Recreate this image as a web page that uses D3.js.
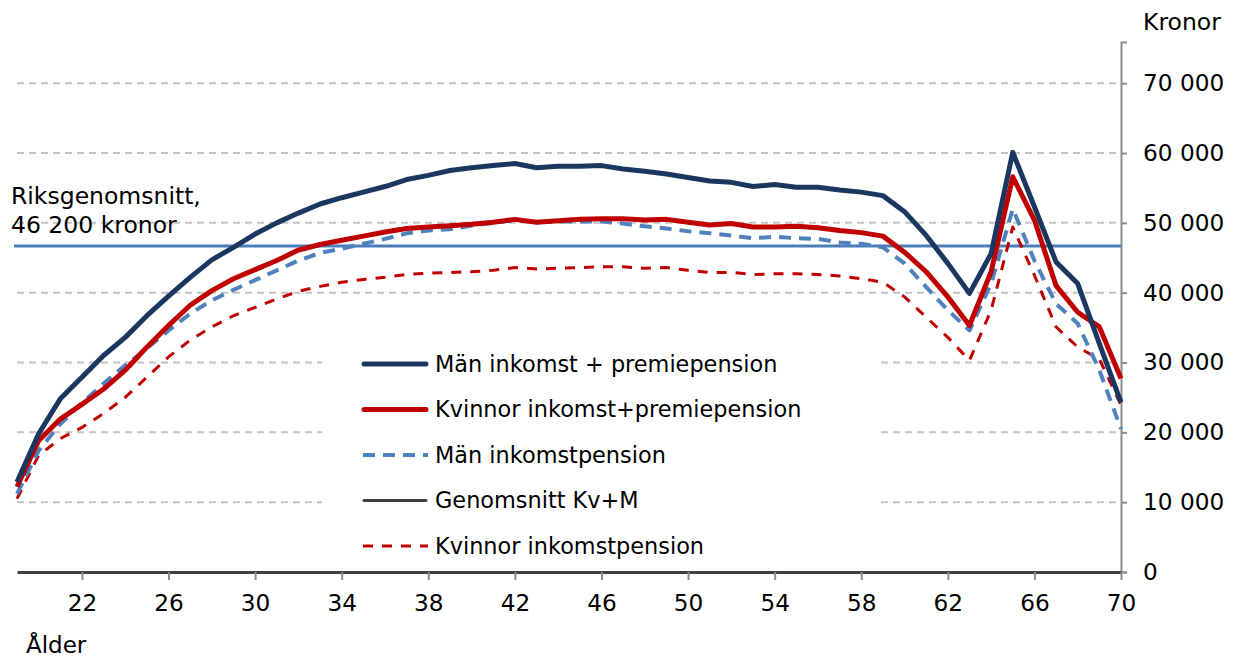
<!DOCTYPE html>
<html>
<head>
<meta charset="utf-8">
<script src="https://cdn.jsdelivr.net/npm/d3@7"></script>
<style>
  body { margin: 0; background: #fff; }
  svg { font-family: "DejaVu Sans", Verdana, sans-serif; }
</style>
</head>
<body>
<svg id="chart" width="1236" height="660"></svg>
<script>
const ages = d3.range(19, 71);

const manTotal = [12.9, 19.8, 24.8, 27.9, 31.0, 33.6, 36.7, 39.5, 42.2, 44.7, 46.5, 48.4, 50.0, 51.4, 52.7, 53.6, 54.4, 55.2, 56.2, 56.8,
  57.5, 57.9, 58.2, 58.5, 57.9, 58.1, 58.1, 58.2, 57.7, 57.4, 57.0, 56.5, 56.0, 55.8, 55.2, 55.5, 55.1, 55.1, 54.7, 54.4,
  53.9, 51.6, 48.2, 44.2, 39.9, 45.6, 60.1, 52.3, 44.4, 41.3, 32.7, 24.3];
const womanTotal = [12.2, 18.8, 21.9, 24.0, 26.2, 28.9, 32.2, 35.3, 38.2, 40.3, 42.0, 43.3, 44.6, 46.1, 46.9, 47.5, 48.1, 48.7, 49.2, 49.4,
  49.6, 49.8, 50.1, 50.5, 50.1, 50.3, 50.5, 50.6, 50.6, 50.4, 50.5, 50.1, 49.7, 49.9, 49.4, 49.4, 49.5, 49.3, 48.9, 48.6,
  48.1, 45.8, 43.0, 39.4, 35.3, 43.0, 56.6, 50.4, 41.0, 37.2, 35.1, 27.7];
const manInkomst = [11.2, 17.4, 21.2, 24.2, 27.0, 29.6, 32.0, 34.6, 37.0, 38.9, 40.4, 41.8, 43.2, 44.6, 45.7, 46.3, 47.0, 47.7, 48.5, 48.9,
  49.1, 49.6, 50.0, 50.4, 50.1, 50.2, 50.2, 50.2, 49.9, 49.5, 49.2, 48.8, 48.5, 48.2, 47.8, 48.0, 47.8, 47.7, 47.2, 47.0,
  46.5, 44.2, 40.8, 37.5, 34.6, 41.3, 52.0, 44.6, 38.4, 35.6, 28.9, 20.5];
const womanInkomst = [10.5, 16.7, 19.1, 20.7, 22.7, 25.0, 27.9, 30.8, 33.2, 35.1, 36.7, 37.9, 39.1, 40.2, 40.9, 41.5, 41.9, 42.2, 42.6, 42.8,
  42.9, 43.0, 43.2, 43.6, 43.4, 43.5, 43.6, 43.7, 43.7, 43.5, 43.6, 43.2, 42.9, 42.9, 42.6, 42.7, 42.7, 42.6, 42.4, 42.0,
  41.5, 39.4, 36.5, 33.6, 30.3, 37.5, 49.4, 42.5, 35.1, 32.2, 30.5, 23.9];
const riksAvg = 46.7;
const xTicks = [22, 26, 30, 34, 38, 42, 46, 50, 54, 58, 62, 66, 70];
const yTicks = [0, 10, 20, 30, 40, 50, 60, 70];

const series = [
  { name: "Män inkomst + premiepension", values: manTotal, color: "#1b365f", width: 5, dash: null },
  { name: "Kvinnor inkomst+premiepension", values: womanTotal, color: "#c00000", width: 5, dash: null },
  { name: "Män inkomstpension", values: manInkomst, color: "#4f81bd", width: 4, dash: "12,8" },
  { name: "Genomsnitt Kv+M", values: null, color: "#404040", width: 3, dash: null },
  { name: "Kvinnor inkomstpension", values: womanInkomst, color: "#c00000", width: 3, dash: "10,9" }
];

const svg = d3.select("#chart");
const plotLeft = 17, plotRight = 1121, plotTop = 42, plotBottom = 572;

const x = d3.scaleLinear().domain([19, 70]).range([plotLeft, plotRight]);
const y = d3.scaleLinear().domain([0, 75.9]).range([plotBottom, plotTop]);
const fmt = d => d === 0 ? "0" : d + " 000";

// gridlines
svg.append("g")
  .selectAll("line")
  .data(yTicks.filter(d => d > 0))
  .join("line")
  .attr("x1", plotLeft).attr("x2", plotRight)
  .attr("y1", d => y(d)).attr("y2", d => y(d))
  .attr("stroke", "#c3c3c3")
  .attr("stroke-width", 2)
  .attr("stroke-dasharray", "7,5");

// legend background hides the grid behind it
svg.append("rect")
  .attr("x", 322).attr("y", 330)
  .attr("width", 555).attr("height", 236)
  .attr("fill", "#fff");

// right axis
const yAxis = svg.append("g")
  .attr("transform", `translate(${plotRight},0)`)
  .call(d3.axisRight(y).tickValues(yTicks).tickFormat(fmt).tickSize(6).tickPadding(16));
yAxis.select(".domain").attr("stroke", "#8c8c8c").attr("stroke-width", 2);
yAxis.selectAll(".tick line").attr("stroke", "#8c8c8c").attr("stroke-width", 2);
yAxis.selectAll("text").attr("font-size", 23.2).attr("fill", "#000").attr("font-family", "DejaVu Sans");

// bottom axis
const xAxis = svg.append("g")
  .attr("transform", `translate(0,${plotBottom})`)
  .call(d3.axisBottom(x).tickValues(xTicks).tickSize(8).tickSizeOuter(0).tickPadding(15));
xAxis.select(".domain").attr("stroke", "#404040").attr("stroke-width", 3);
xAxis.selectAll(".tick line").attr("stroke", "#8c8c8c").attr("stroke-width", 2);
xAxis.selectAll("text").attr("font-size", 23.2).attr("fill", "#000").attr("font-family", "DejaVu Sans");

// national average
svg.append("line")
  .attr("x1", 14).attr("x2", plotRight)
  .attr("y1", y(riksAvg)).attr("y2", y(riksAvg))
  .attr("stroke", "#4a7ebb").attr("stroke-width", 3);

const line = d3.line()
  .x((d, i) => x(ages[i]))
  .y(d => y(d));

// dashed series first, solid on top
const drawOrder = [4, 2, 1, 0];
drawOrder.forEach(k => {
  const s = series[k];
  svg.append("path")
    .datum(s.values)
    .attr("d", line)
    .attr("fill", "none")
    .attr("stroke", s.color)
    .attr("stroke-width", s.width)
    .attr("stroke-linejoin", "round")
    .attr("stroke-dasharray", s.dash);
});

// legend
const legend = svg.append("g");
series.forEach((s, i) => {
  const ly = 364 + i * 45.5;
  legend.append("line")
    .attr("x1", s.dash ? 363 : 364).attr("x2", s.dash ? 428 : 426)
    .attr("y1", ly).attr("y2", ly)
    .attr("stroke", s.color)
    .attr("stroke-width", s.width)
    .attr("stroke-linecap", s.dash ? "butt" : "round")
    .attr("stroke-dasharray", s.dash);
  legend.append("text")
    .attr("x", 435).attr("y", ly)
    .attr("dy", "0.35em")
    .attr("font-size", 22.4)
    .text(s.name);
});

// annotations
svg.append("text").attr("x", 11).attr("y", 204).attr("font-size", 23.5).text("Riksgenomsnitt,");
svg.append("text").attr("x", 11).attr("y", 233).attr("font-size", 23.5).text("46 200 kronor");
svg.append("text").attr("x", 1143).attr("y", 30).attr("font-size", 23.5).text("Kronor");
svg.append("text").attr("x", 26).attr("y", 653).attr("font-size", 23).text("Ålder");
</script>
</body>
</html>
